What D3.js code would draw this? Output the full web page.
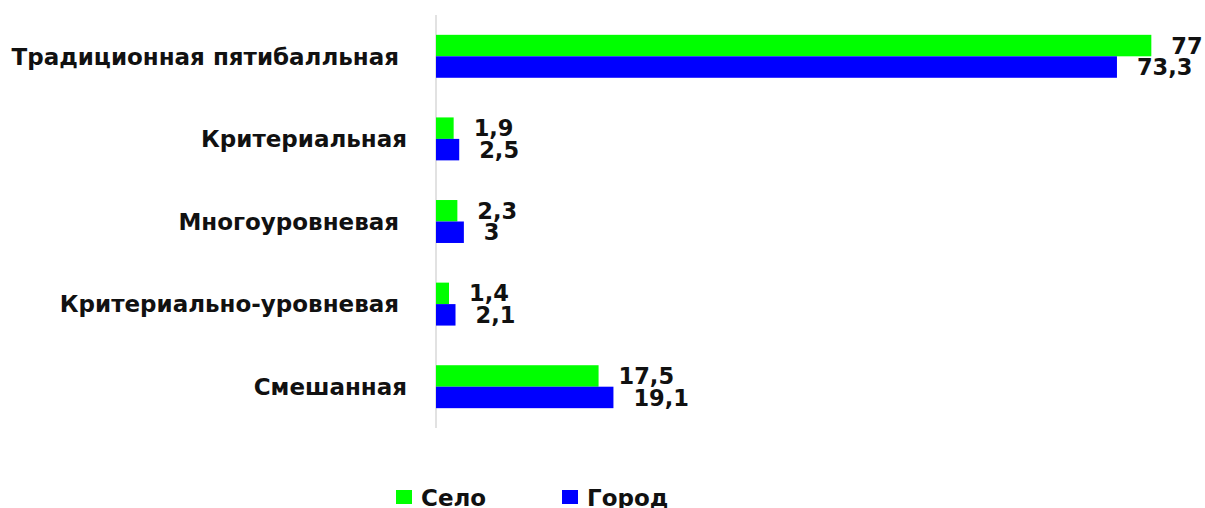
<!DOCTYPE html>
<html>
<head>
<meta charset="utf-8">
<script src="https://cdn.jsdelivr.net/npm/d3@7"></script>
<style>
  html, body { margin: 0; padding: 0; background: #fff; overflow: hidden; }
  text { white-space: pre; }
</style>
</head>
<body>
<div id="chart"></div>
<script>
// chart data
const categories = [
    "Традиционная пятибалльная ",
    "Критериальная",
    "Многоуровневая ",
    "Критериально-уровневая ",
    "Смешанная"
];
const seriesNames = ["Село", "Город"];
const seloValues = [77, 1.9, 2.3, 1.4, 17.5];
const gorodValues = [73.3, 2.5, 3, 2.1, 19.1];
const seriesColors = ["#00ff00", "#0000ff"];

function renderBars() {
    const width = 1205;
    const height = 508;
    const font = "'DejaVu Sans', Verdana, sans-serif";

    const svg = d3.select("#chart").append("svg")
        .attr("width", width)
        .attr("height", height);

    // Scales
    const x = d3.scaleLinear()
        .domain([0, 80])
        .range([436, 436 + 80 * 9.29]);

    const y = d3.scaleBand()
        .domain(categories)
        .range([15, 428])
        .paddingInner(0.48)
        .paddingOuter(0.24);

    const ySeries = d3.scaleBand()
        .domain(seriesNames)
        .range([0, y.bandwidth()]);

    const color = d3.scaleOrdinal(seriesNames, seriesColors);

    const rows = categories.map((c, i) => ({
        category: c,
        values: [
            {series: "Село", value: seloValues[i]},
            {series: "Город", value: gorodValues[i]}
        ]
    }));

    // Category labels
    svg.append("g")
        .selectAll("text")
        .data(categories)
        .join("text")
        .attr("x", 407)
        .attr("y", d => y(d) + y.bandwidth() / 2)
        .attr("dy", "0.36em")
        .attr("text-anchor", "end")
        .attr("font-family", font)
        .attr("font-weight", "bold")
        .attr("font-size", 23)
        .attr("fill", "#111")
        .text(d => d);

    // Vertical axis line
    svg.append("line")
        .attr("x1", x(0)).attr("x2", x(0))
        .attr("y1", 15).attr("y2", 428)
        .attr("stroke", "#d9d9d9")
        .attr("stroke-width", 1.5);

    // Bars
    const groups = svg.append("g")
        .selectAll("g")
        .data(rows)
        .join("g")
        .attr("transform", d => `translate(0,${y(d.category)})`);

    groups.selectAll("rect")
        .data(d => d.values)
        .join("rect")
        .attr("x", x(0))
        .attr("y", d => ySeries(d.series))
        .attr("width", d => x(d.value) - x(0))
        .attr("height", ySeries.bandwidth())
        .attr("fill", d => color(d.series));

    // Value labels
    groups.selectAll("text")
        .data(d => d.values)
        .join("text")
        .attr("x", d => x(d.value) + 20)
        .attr("y", d => ySeries(d.series) + ySeries.bandwidth() / 2)
        .attr("dy", "0.36em")
        .attr("font-family", font)
        .attr("font-weight", "bold")
        .attr("font-size", 22.5)
        .attr("fill", "#111")
        .text(d => String(d.value).replace(".", ","));

    // Legend
    const legend = svg.append("g")
        .selectAll("g")
        .data(seriesNames)
        .join("g")
        .attr("transform", (d, i) => `translate(${396 + i * 166},490)`);

    legend.append("rect")
        .attr("width", 16)
        .attr("height", 14)
        .attr("fill", d => color(d));

    legend.append("text")
        .attr("x", 25)
        .attr("y", 16)
        .attr("font-family", font)
        .attr("font-weight", "bold")
        .attr("font-size", 23)
        .attr("fill", "#111")
        .text(d => d);
}

renderBars();
</script>
</body>
</html>
